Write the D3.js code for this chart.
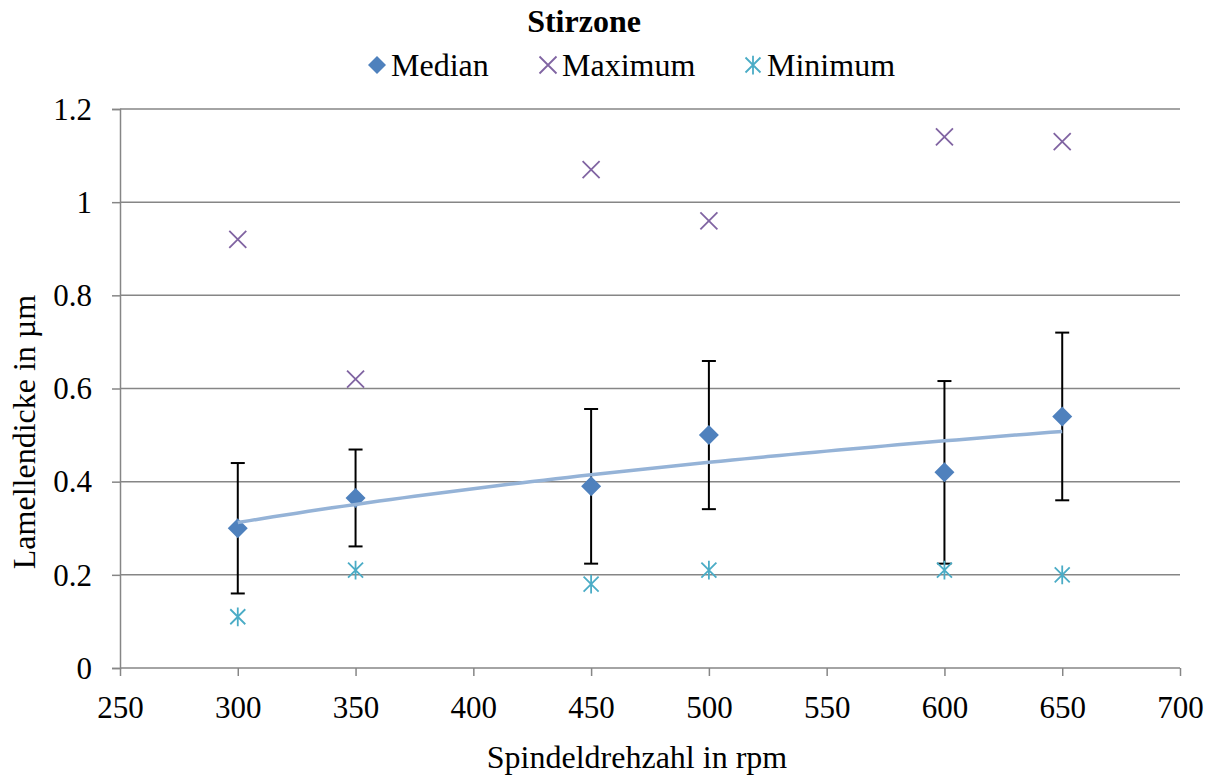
<!DOCTYPE html>
<html><head><meta charset="utf-8">
<script src="https://cdn.jsdelivr.net/npm/d3@7"></script>
</head><body style="margin:0;background:#fff">
<svg id="c" width="1215" height="778" style="display:block"></svg>
<script>
const rpm = [300, 350, 450, 500, 600, 650];
const median = [0.30, 0.365, 0.39, 0.50, 0.42, 0.54];
const errPlus = [0.14, 0.104, 0.166, 0.159, 0.196, 0.18];
const maximum = [0.92, 0.62, 1.07, 0.96, 1.14, 1.13];
const minimum = [0.11, 0.21, 0.18, 0.21, 0.21, 0.20];
const xTicks = [250, 300, 350, 400, 450, 500, 550, 600, 650, 700];
const yTicks = [0, 0.2, 0.4, 0.6, 0.8, 1, 1.2];

const FONT = "Liberation Serif";
const svg = d3.select("#c");
const L = 120, R = 1180, T = 109, B = 668;
const x = d3.scaleLinear().domain([250, 700]).range([L, R]);
const y = d3.scaleLinear().domain([0, 1.2]).range([B, T]);
const grey = "#868686";

// gridlines
svg.append("g").selectAll("line").data(yTicks.filter(d => d > 0)).join("line")
  .attr("x1", L).attr("x2", R).attr("y1", d => y(d)).attr("y2", d => y(d))
  .attr("stroke", grey).attr("stroke-width", 1.5);

// axes
const yAxis = svg.append("g").attr("transform", `translate(${L},0)`)
  .call(d3.axisLeft(y).tickValues(yTicks).tickSize(8).tickFormat(d => String(d)));
const xAxis = svg.append("g").attr("transform", `translate(0,${B})`)
  .call(d3.axisBottom(x).tickValues(xTicks).tickSize(8).tickFormat(d => String(d)));
[yAxis, xAxis].forEach(g => {
  g.attr("font-family", FONT).attr("font-size", 31);
  g.select(".domain").attr("stroke", grey).attr("stroke-width", 1.5);
  g.selectAll(".tick line").attr("stroke", grey).attr("stroke-width", 1.5);
  g.selectAll("text").attr("fill", "#000");
});
yAxis.selectAll("text").attr("x", -28).attr("dy", "0.33em");
xAxis.selectAll("text").attr("y", 50).attr("dy", null);
xAxis.select(".domain").attr("d", `M${L},0H${R}`);

// error bars
const eb = svg.append("g").attr("stroke", "#000").attr("stroke-width", 2);
rpm.forEach((r, i) => {
  const cx = x(r), y1 = y(median[i] + errPlus[i]), y2 = y(median[i] - errPlus[i]);
  eb.append("line").attr("x1", cx).attr("x2", cx).attr("y1", y1).attr("y2", y2);
  eb.append("line").attr("x1", cx - 7).attr("x2", cx + 7).attr("y1", y1).attr("y2", y1);
  eb.append("line").attr("x1", cx - 7).attr("x2", cx + 7).attr("y1", y2).attr("y2", y2);
});

// markers
const diamond = s => `M0,${-s}L${s},0L0,${s}L${-s},0Z`;
const cross = s => `M${-s},${-s}L${s},${s}M${-s},${s}L${s},${-s}`;
const star = s => `M${-s},${-s}L${s},${s}M${-s},${s}L${s},${-s}M0,${-s*1.25}V${s*1.25}`;

svg.append("g").selectAll("path").data(rpm).join("path")
  .attr("transform", (d, i) => `translate(${x(d)},${y(median[i])})`)
  .attr("d", diamond(10)).attr("fill", "#4F81BD");

// logarithmic trendline fitted from median data
const lx = rpm.map(Math.log);
const mx = d3.mean(lx), my = d3.mean(median);
const b = d3.sum(lx, (v, i) => (v - mx) * (median[i] - my)) / d3.sum(lx, v => (v - mx) ** 2);
const a = my - b * mx;
const trend = d3.range(300, 651, 5).map(v => [v, a + b * Math.log(v)]);
svg.append("path").datum(trend)
  .attr("d", d3.line().x(d => x(d[0])).y(d => y(d[1])))
  .attr("fill", "none").attr("stroke", "#95B3D7").attr("stroke-width", 3.5);

svg.append("g").selectAll("path").data(rpm).join("path")
  .attr("transform", (d, i) => `translate(${x(d)},${y(maximum[i])})`)
  .attr("d", cross(8.5)).attr("stroke", "#8064A2").attr("stroke-width", 1.8).attr("fill", "none");
svg.append("g").selectAll("path").data(rpm).join("path")
  .attr("transform", (d, i) => `translate(${x(d)},${y(minimum[i])})`)
  .attr("d", star(7.5)).attr("stroke", "#4BACC6").attr("stroke-width", 1.8).attr("fill", "none");

// title
svg.append("text").attr("x", 584).attr("y", 32).attr("text-anchor", "middle")
  .attr("font-family", FONT).attr("font-size", 32).attr("font-weight", "bold").text("Stirzone");

// legend
const leg = svg.append("g").attr("font-family", FONT).attr("font-size", 32);
const ly = 65;
leg.append("path").attr("transform", `translate(377,${ly})`).attr("d", diamond(9)).attr("fill", "#4F81BD");
leg.append("text").attr("x", 391).attr("y", ly + 11).text("Median");
leg.append("path").attr("transform", `translate(548,${ly})`).attr("d", cross(8.5))
  .attr("stroke", "#8064A2").attr("stroke-width", 1.8).attr("fill", "none");
leg.append("text").attr("x", 562).attr("y", ly + 11).text("Maximum");
leg.append("path").attr("transform", `translate(753,${ly})`).attr("d", star(7.5))
  .attr("stroke", "#4BACC6").attr("stroke-width", 1.8).attr("fill", "none");
leg.append("text").attr("x", 767).attr("y", ly + 11).text("Minimum");

// axis titles
svg.append("text").attr("x", 637).attr("y", 768).attr("text-anchor", "middle")
  .attr("font-family", FONT).attr("font-size", 32).text("Spindeldrehzahl in rpm");
svg.append("text").attr("transform", "translate(35,432) rotate(-90)").attr("text-anchor", "middle")
  .attr("font-family", FONT).attr("font-size", 32).text("Lamellendicke in µm");
</script>
</body></html>
